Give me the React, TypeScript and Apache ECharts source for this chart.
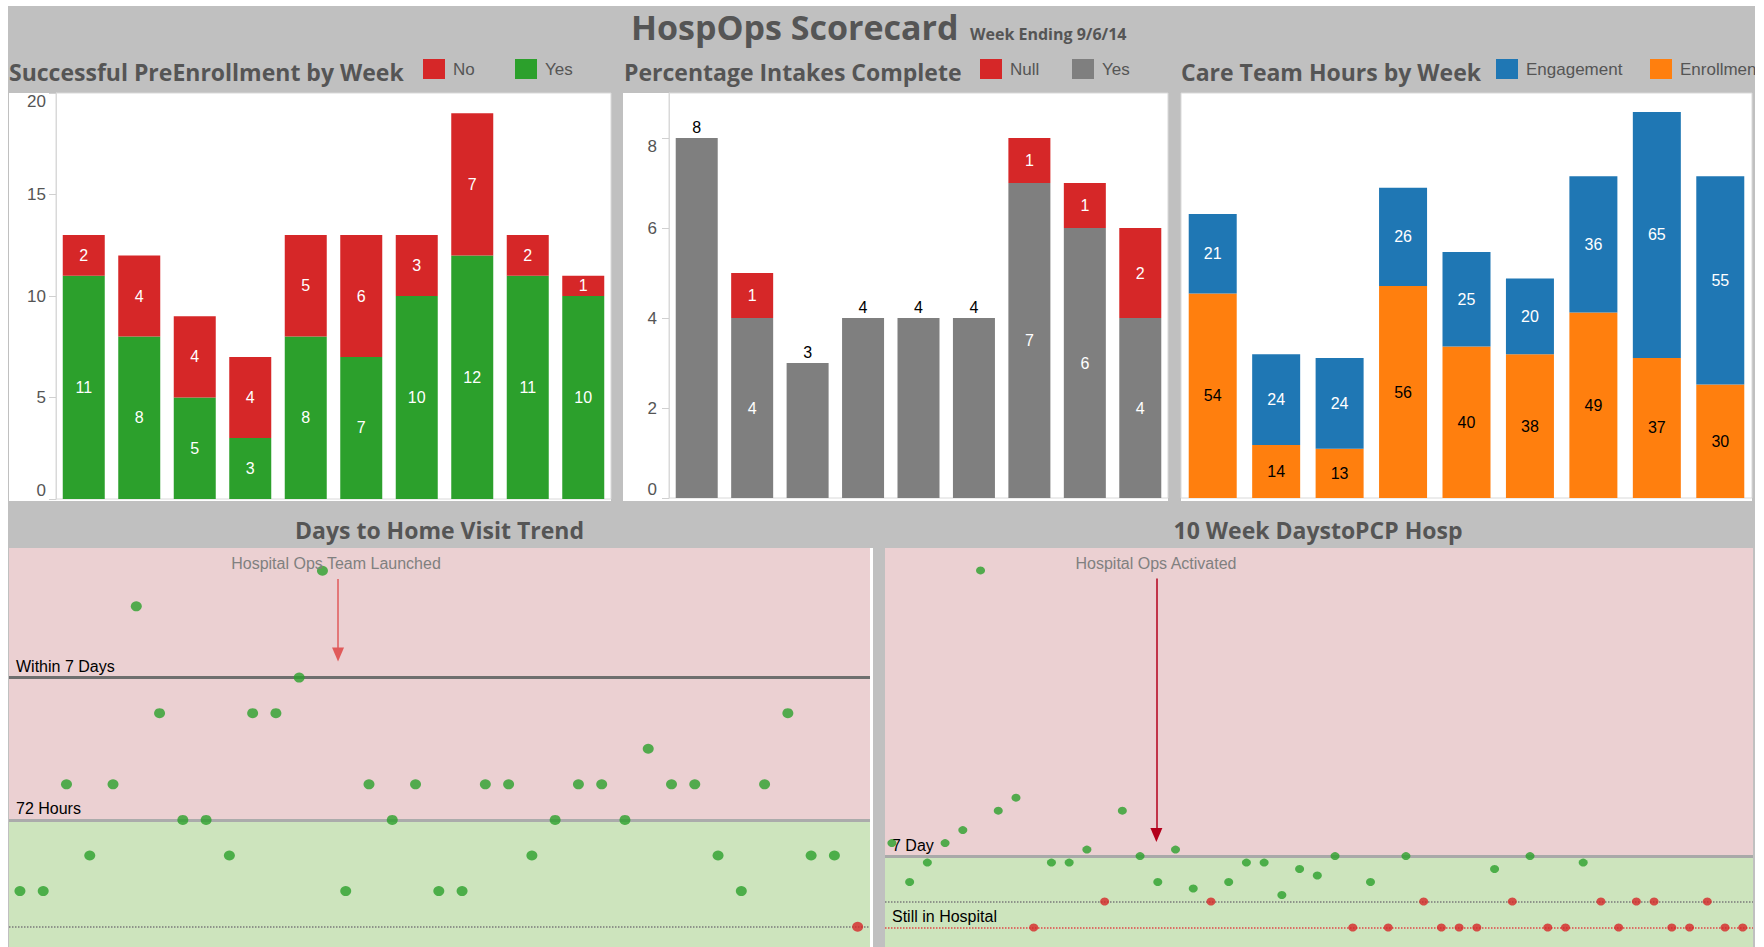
import { useEffect, useRef } from "react";
import * as echarts from "echarts";

// ---------------- data ----------------
const preWeeks = ["W1", "W2", "W3", "W4", "W5", "W6", "W7", "W8", "W9", "W10"];
const preYes = [11, 8, 5, 3, 8, 7, 10, 12, 11, 10];
const preNo = [2, 4, 4, 4, 5, 6, 3, 7, 2, 1];

const intakeWeeks = ["W1", "W2", "W3", "W4", "W5", "W6", "W7", "W8", "W9"];
const intakeYes = [8, 4, 3, 4, 4, 4, 7, 6, 4];
const intakeNull = [null, 1, null, null, null, null, 1, 1, 2];
const intakeTicks = [0, 2, 4, 6, 8];

const hourWeeks = ["W1", "W2", "W3", "W4", "W5", "W6", "W7", "W8", "W9"];
const hoursEnrollment = [54, 14, 13, 56, 40, 38, 49, 37, 30];
const hoursEngagement = [21, 24, 24, 26, 25, 20, 36, 65, 55];

// days to home visit, one value per patient (0 = not yet visited)
const homeVisitDays = [1, 1, 4, 2, 4, 9, 6, 3, 3, 2, 6, 6, 7, 10, 1, 4, 3, 4, 1, 1, 4, 4, 2, 3, 4, 4, 3, 5, 4, 4, 2, 1, 4, 6, 2, 2, 0];
// days to PCP visit (0 = no visit yet, -4 = still in hospital)
const pcpDays = [9, 3, 6, 9, 11, 51, 14, 16, -4, 6, 6, 8, 0, 14, 7, 3, 8, 2, 0, 3, 6, 6, 1, 5, 4, 7, -4, 3, -4, 7, 0, -4, -4, -4, 5, 0, 7, -4, -4, 6, 0, -4, 0, 0, -4, -4, 0, -4, -4];

const homeThresholds = { week: 7, hours72: 3, none: 0 };
const pcpThresholds = { week: 7, none: 0, hospital: -4 };
const homeLaunchIndex = 13.67;
const pcpActivatedIndex = 14.92;

// ---------------- styles ----------------
const RED = "#d62728";
const GREEN = "#2ca02c";
const GRAY = "#7f7f7f";
const BLUE = "#1f77b4";
const ORANGE = "#ff7f0e";
const PINK_BG = "#ebd0d2";
const GREEN_BG = "#cde4bd";
const TITLE_FONT = "'Open Sans', 'Trebuchet MS', sans-serif";
const LABEL_FONT = "'Liberation Sans', Arial, sans-serif";
const TITLE_COLOR = "#555555";

const panels = [
  { left: 8, top: 6, width: 1747, height: 941, bg: "#c0c0c0" },
  { left: 9, top: 93, width: 602, height: 408, bg: "#ffffff" },
  { left: 623, top: 93, width: 545, height: 408, bg: "#ffffff" },
  { left: 1181, top: 93, width: 571, height: 408, bg: "#ffffff" },
  { left: 870, top: 548, width: 3, height: 399, bg: "#ffffff" },
];

function txt(text: string, x: number, y: number, size: number, opts: any = {}) {
  return {
    type: "text",
    x,
    y,
    z: 50,
    style: {
      text,
      fontSize: size,
      fontFamily: opts.family || TITLE_FONT,
      fontWeight: opts.weight || "bold",
      fill: opts.color || TITLE_COLOR,
      align: opts.align || "left",
      verticalAlign: "middle",
    },
  };
}

function legendItem(color: string, label: string, x: number) {
  return [
    { type: "rect", z: 50, shape: { x, y: 59, width: 22, height: 20 }, style: { fill: color } },
    txt(label, x + 30, 69, 17, { family: LABEL_FONT, weight: "normal", color: "#555" }),
  ];
}

function hLine(y: number, color: string, width: number, type: string, label?: string) {
  return {
    yAxis: y,
    lineStyle: { color, width, type },
    label: label
      ? {
          show: true,
          formatter: label,
          position: "insideStartTop",
          color: "#000",
          fontSize: 16,
          fontFamily: LABEL_FONT,
          distance: [7, 3],
        }
      : { show: false },
  };
}

function arrow(x: number, y1: number, y2: number, color: string) {
  return [
    { coord: [x, y1], symbol: "none", lineStyle: { color, width: 1.5, type: "solid" }, label: { show: false } },
    { coord: [x, y2], symbol: "triangle", symbolSize: [12, 14], lineStyle: { color, width: 1.5, type: "solid" }, label: { show: false } },
  ];
}

const barLabel = (color: string) => ({
  show: true,
  position: "inside",
  color,
  fontSize: 16,
  fontFamily: LABEL_FONT,
});

const yAxisStyle = {
  axisLabel: {
    fontSize: 17,
    color: "#555",
    fontFamily: LABEL_FONT,
    margin: 10,
    verticalAlignMaxLabel: "top",
    verticalAlignMinLabel: "bottom",
  },
  axisTick: { show: true, length: 7, lineStyle: { color: "#d0d0d0" } },
  axisLine: { show: true, lineStyle: { color: "#d9d9d9" } },
  splitLine: { show: false },
};

const hiddenCat = (gridIndex: number, data: string[]) => ({
  type: "category",
  gridIndex,
  data,
  axisLabel: { show: false },
  axisTick: { show: false },
  axisLine: { show: false },
});

const HOME_Y = [-0.57, 10.64];
const PCP_Y = [-7, 54.45];

const option: any = {
  animation: false,
  backgroundColor: "transparent",
  grid: [
    { left: 56, top: 93, width: 555, height: 406, show: true, backgroundColor: "#fff", borderColor: "#d9d9d9", borderWidth: 1 },
    { left: 669, top: 93, width: 499, height: 405, show: true, backgroundColor: "#fff", borderColor: "#d9d9d9", borderWidth: 1 },
    { left: 1181, top: 93, width: 571, height: 405, show: true, backgroundColor: "#fff", borderColor: "#d9d9d9", borderWidth: 1 },
    { left: 9, top: 548, width: 861, height: 399 },
    { left: 885, top: 548, width: 868, height: 399 },
  ],
  xAxis: [
    hiddenCat(0, preWeeks),
    hiddenCat(1, intakeWeeks),
    hiddenCat(2, hourWeeks),
    { type: "value", gridIndex: 3, min: -0.47, max: homeVisitDays.length - 1 + 0.53, show: false },
    { type: "value", gridIndex: 4, min: -0.39, max: pcpDays.length - 1 + 0.58, show: false },
  ],
  yAxis: [
    { type: "value", gridIndex: 0, min: 0, max: 20, interval: 5, ...yAxisStyle },
    {
      type: "value",
      gridIndex: 1,
      min: 0,
      max: 9,
      ...yAxisStyle,
      axisLabel: { ...yAxisStyle.axisLabel, margin: 12, customValues: intakeTicks, formatter: (v: number) => (v % 2 === 0 ? String(v) : "") },
      axisTick: { ...yAxisStyle.axisTick, customValues: intakeTicks },
    },
    { type: "value", gridIndex: 2, min: 0, max: 107, show: false },
    { type: "value", gridIndex: 3, min: HOME_Y[0], max: HOME_Y[1], show: false },
    { type: "value", gridIndex: 4, min: PCP_Y[0], max: PCP_Y[1], show: false },
  ],
  series: [
    { name: "Yes", type: "bar", xAxisIndex: 0, yAxisIndex: 0, stack: "pre", barWidth: 42, data: preYes, itemStyle: { color: GREEN }, label: barLabel("#fff") },
    { name: "No", type: "bar", xAxisIndex: 0, yAxisIndex: 0, stack: "pre", barWidth: 42, data: preNo, itemStyle: { color: RED }, label: barLabel("#fff") },
    {
      name: "Yes",
      type: "bar",
      xAxisIndex: 1,
      yAxisIndex: 1,
      stack: "intake",
      barWidth: 42,
      itemStyle: { color: GRAY },
      label: barLabel("#fff"),
      data: intakeYes.map((v, i) => ({
        value: v,
        label: intakeNull[i] == null ? { position: "top", color: "#000", distance: 3 } : { position: "inside", color: "#fff" },
      })),
    },
    { name: "Null", type: "bar", xAxisIndex: 1, yAxisIndex: 1, stack: "intake", barWidth: 42, data: intakeNull, itemStyle: { color: RED }, label: barLabel("#fff") },
    { name: "Enrollment", type: "bar", xAxisIndex: 2, yAxisIndex: 2, stack: "hours", barWidth: 48, data: hoursEnrollment, itemStyle: { color: ORANGE }, label: barLabel("#000") },
    { name: "Engagement", type: "bar", xAxisIndex: 2, yAxisIndex: 2, stack: "hours", barWidth: 48, data: hoursEngagement, itemStyle: { color: BLUE }, label: barLabel("#fff") },
    {
      name: "homeBackdrop",
      type: "scatter",
      xAxisIndex: 3,
      yAxisIndex: 3,
      data: [],
      z: 1,
      silent: true,
      markArea: {
        silent: true,
        label: { show: false },
        data: [
          [{ yAxis: homeThresholds.hours72, itemStyle: { color: PINK_BG } }, { yAxis: HOME_Y[1] }],
          [{ yAxis: HOME_Y[0], itemStyle: { color: GREEN_BG } }, { yAxis: homeThresholds.hours72 }],
        ],
      },
      markLine: {
        silent: true,
        symbol: ["none", "none"],
        data: [
          hLine(homeThresholds.week, "#6e6e6e", 3, "solid", "Within 7 Days"),
          hLine(homeThresholds.hours72, "#ababab", 3, "solid", "72 Hours"),
          hLine(homeThresholds.none, "#7a7a7a", 1.5, "dotted"),
          arrow(homeLaunchIndex, 9.77, 7.65, "#e05a5a"),
        ],
      },
    },
    {
      name: "Days to Home Visit",
      type: "scatter",
      xAxisIndex: 3,
      yAxisIndex: 3,
      z: 5,
      symbol: "circle",
      symbolSize: [11, 10],
      data: homeVisitDays.map((v, i) => ({ value: [i, v], itemStyle: { color: v <= 0 ? RED : GREEN } })),
    },
    {
      name: "pcpBackdrop",
      type: "scatter",
      xAxisIndex: 4,
      yAxisIndex: 4,
      data: [],
      z: 1,
      silent: true,
      markArea: {
        silent: true,
        label: { show: false },
        data: [
          [{ yAxis: pcpThresholds.week, itemStyle: { color: PINK_BG } }, { yAxis: PCP_Y[1] }],
          [{ yAxis: PCP_Y[0], itemStyle: { color: GREEN_BG } }, { yAxis: pcpThresholds.week }],
        ],
      },
      markLine: {
        silent: true,
        symbol: ["none", "none"],
        data: [
          hLine(pcpThresholds.week, "#a9a9a9", 3, "solid", "7 Day"),
          hLine(pcpThresholds.none, "#7a7a7a", 1.5, "dotted"),
          hLine(pcpThresholds.hospital, "#e04848", 1.5, "dotted", "Still in Hospital"),
          arrow(pcpActivatedIndex, 49.75, 10.24, "#b3001b"),
        ],
      },
    },
    {
      name: "Days to PCP",
      type: "scatter",
      xAxisIndex: 4,
      yAxisIndex: 4,
      z: 5,
      symbol: "circle",
      symbolSize: [9, 8],
      data: pcpDays.map((v, i) => ({ value: [i, v], itemStyle: { color: v <= 0 ? RED : GREEN } })),
    },
  ],
  graphic: {
    elements: [
      txt("HospOps Scorecard", 631, 27, 34),
      txt("Week Ending 9/6/14", 970, 33.5, 16),
      txt("Successful PreEnrollment by Week", 9, 71.5, 23),
      ...legendItem(RED, "No", 423),
      ...legendItem(GREEN, "Yes", 515),
      txt("Percentage Intakes Complete", 624, 71.5, 23),
      ...legendItem(RED, "Null", 980),
      ...legendItem(GRAY, "Yes", 1072),
      txt("Care Team Hours by Week", 1181, 71.5, 23),
      ...legendItem(BLUE, "Engagement", 1496),
      ...legendItem(ORANGE, "Enrollment", 1650),
      txt("Days to Home Visit Trend", 439.5, 529.5, 23, { align: "center" }),
      txt("10 Week DaystoPCP Hosp", 1318, 529.5, 23, { align: "center" }),
      txt("Hospital Ops Team Launched", 336, 563, 16, { family: LABEL_FONT, weight: "normal", color: "#808080", align: "center" }),
      txt("Hospital Ops Activated", 1156, 563, 16, { family: LABEL_FONT, weight: "normal", color: "#808080", align: "center" }),
      { type: "rect", z: 100, shape: { x: 1755, y: 0, width: 9, height: 947 }, style: { fill: "#ffffff" } },
    ],
  },
};

export default function App() {
  const ref = useRef<HTMLDivElement>(null);
  useEffect(() => {
    const chart = echarts.init(ref.current!, null, { renderer: "svg" });
    chart.setOption(option);
    return () => chart.dispose();
  }, []);
  return (
    <div style={{ position: "absolute", left: 0, top: 0, width: 1764, height: 947, background: "#fff", overflow: "hidden" }}>
      {panels.map((p, i) => (
        <div key={i} style={{ position: "absolute", left: p.left, top: p.top, width: p.width, height: p.height, background: p.bg }} />
      ))}
      <div ref={ref} style={{ position: "absolute", left: 0, top: 0, width: 1764, height: 947 }} />
    </div>
  );
}
